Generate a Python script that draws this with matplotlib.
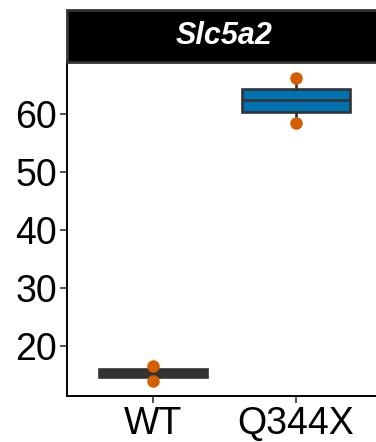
import matplotlib
matplotlib.use("Agg")
import matplotlib.pyplot as plt
from matplotlib.patches import Rectangle

plt.rcParams['font.family'] = ['Liberation Sans', 'DejaVu Sans']

gene = "Slc5a2"
groups = ["WT", "Q344X"]
box_fill = ["#333333", "#0072B2"]

# box statistics
q1 = [14.7, 60.4]
med = [15.3, 62.4]
q3 = [16.0, 64.2]
whislo = [14.0, 58.4]
whishi = [16.6, 66.2]

# individual samples
wt_points = [16.6, 14.0]
q344x_points = [66.2, 58.4]
points = [wt_points, q344x_points]

yticks = [20, 30, 40, 50, 60]

W, H = 376, 442
fig = plt.figure(figsize=(W / 100, H / 100), dpi=100)

x0, x1 = 67, 382
ytop, ybot = 61, 396
ax = fig.add_axes([x0 / W, (H - ybot) / H, (x1 - x0) / W, (ybot - ytop) / H])

edge = "#333333"
stats = []
for i, g in enumerate(groups):
    stats.append(dict(label=g, q1=q1[i], med=med[i], q3=q3[i],
                      whislo=whislo[i], whishi=whishi[i], fliers=[]))

bp = ax.bxp(stats, positions=[1, 2], widths=0.75, patch_artist=True,
            showcaps=False,
            boxprops=dict(edgecolor=edge, linewidth=1.9),
            medianprops=dict(color=edge, linewidth=1.9),
            whiskerprops=dict(color=edge, linewidth=1.9))
for patch, c in zip(bp['boxes'], box_fill):
    patch.set_facecolor(c)

for i, pts in enumerate(points):
    ax.plot([i + 1] * len(pts), pts, 'o', color="#D55E00", markersize=9,
            markeredgewidth=0, zorder=5)

ax.set_xlim(0.4, 2.6)
ax.set_ylim(11.4, 69.1)
ax.set_yticks(yticks)
ax.set_xticks([1, 2])
ax.set_xticklabels(groups)

for s in ['top', 'right']:
    ax.spines[s].set_visible(False)
for s in ['left', 'bottom']:
    ax.spines[s].set_linewidth(1.4)
    ax.spines[s].set_color('black')

ax.tick_params(axis='both', length=5, width=1.2, color=edge,
               labelsize=27, labelcolor='black', pad=2)

# facet strip
sax = fig.add_axes([x0 / W, (H - 62) / H, (x1 - x0) / W, 52 / H])
sax.set_xlim(0, 1)
sax.set_ylim(0, 1)
sax.axis('off')
sax.add_patch(Rectangle((0, 0), 1, 1, facecolor='black', edgecolor='#333333',
                        linewidth=2, transform=sax.transAxes, clip_on=False))
sax.text(0.5, 0.5, gene, color='white', fontsize=22, fontweight='bold',
         fontstyle='italic', ha='center', va='center')

fig.savefig("out.png", dpi=100)
